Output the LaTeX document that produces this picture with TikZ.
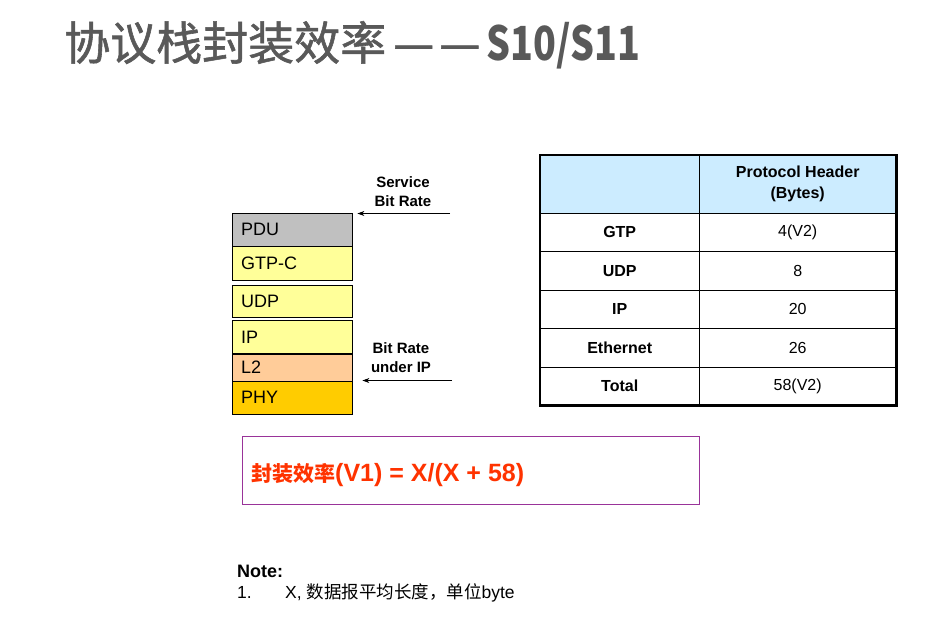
\documentclass[tikz,border=0pt]{standalone}
\usepackage{fontspec}
\setmainfont{Liberation Sans}
\newfontfamily\cjk{Noto Sans CJK SC}
\newfontfamily\cjktitle[FakeBold=1.2]{Noto Sans CJK SC}
\newfontfamily\cjknarrow[FakeStretch=0.8]{Noto Sans CJK SC}
\usetikzlibrary{positioning,arrows.meta}
\definecolor{titlegray}{HTML}{595959}
\definecolor{pdugray}{HTML}{C0C0C0}
\definecolor{lightyellow}{HTML}{FFFF99}
\definecolor{peach}{HTML}{FFCC99}
\definecolor{gold}{HTML}{FFCC00}
\definecolor{headblue}{HTML}{CCECFF}
\definecolor{formulared}{HTML}{FF3300}
\definecolor{boxpurple}{HTML}{993399}
\tikzset{
  layer/.style={draw, inner xsep=9pt, inner ysep=0pt, text width=102pt, align=left,
    font=\fontsize{18}{20}\selectfont},
  cell/.style={draw, anchor=north west, inner sep=0pt, align=center,
    font=\fontsize{16}{20}\selectfont},
  ratelabel/.style={align=center, font=\bfseries\fontsize{15}{19}\selectfont},
  >={Stealth[length=7pt,width=5pt]}
}

\begin{document}
\begin{tikzpicture}[x=1pt, y=-1pt]
    \fill[white] (0,0) rectangle (928,641);
    \useasboundingbox (0,0) rectangle (928,641);

    % title
    \node[anchor=base west, inner sep=0pt, text=titlegray,
          font=\cjktitle\fontsize{46}{50}\selectfont] (title) at (64,60)
          {协议栈封装效率\hspace{7pt}—\hspace{5pt}—\hspace{6pt}{\cjknarrow\bfseries\fontsize{47}{50}\selectfont S10/S11}};

    % protocol stack
    \node[layer, fill=pdugray, minimum height=33pt, anchor=north west] (PDU) at (232,213) {PDU};
    \node[layer, fill=lightyellow, minimum height=34pt] (GTPC) [below=0pt of PDU] {GTP-C};
    \node[layer, fill=lightyellow, minimum height=32pt] (UDP) [below=4pt of GTPC] {UDP};
    \node[layer, fill=lightyellow, minimum height=33pt] (IP) [below=3pt of UDP] {IP};
    \node[layer, fill=peach, minimum height=27pt] (L2) [below=0pt of IP] {L2};
    \node[layer, fill=gold, minimum height=33pt] (PHY) [below=0pt of L2] {PHY};

    \node[ratelabel] (svclabel) at (403,192) {Service\\Bit Rate};
    \node[ratelabel] (iplabel) at (401,358) {Bit Rate\\under IP};
    \coordinate (svcstart) at (450,213.5);
    \coordinate (ipstart) at (452,380.5);
    \draw[->, line width=0.8pt] (svcstart) -- ([xshift=5pt]svcstart -| PDU.east);
    \draw[->, line width=0.8pt] (ipstart) -- ([xshift=10pt]ipstart -| PHY.east);

    % header table
    \node[cell, fill=headblue, minimum width=159pt, minimum height=58pt] (head1) at (540,155) {};
    \node[cell, fill=headblue, minimum width=197pt, minimum height=58pt,
          font=\bfseries\fontsize{16}{21}\selectfont] (head2) at (699,155) {Protocol Header\\(Bytes)};
    \foreach \name/\val [count=\i] in {GTP/4(V2), UDP/8, IP/20, Ethernet/26, Total/58(V2)} {
      \node[cell, minimum width=159pt, minimum height=38.4pt, font=\bfseries\fontsize{16}{20}\selectfont]
            (name\i) at (540,{213+(\i-1)*38.4}) {\name};
      \node[cell, minimum width=197pt, minimum height=38.4pt] (val\i) at (699,{213+(\i-1)*38.4}) {\val};
    }
    \draw[line width=2.5pt] (head1.north west) rectangle (val5.south east);

    % efficiency formula
    \node[draw=boxpurple, anchor=north west, minimum width=457pt, minimum height=68pt] (effbox) at (242,436) {};
    \node[anchor=west, inner sep=0pt, text=formulared, font=\bfseries\fontsize{25}{28}\selectfont]
          (efftext) at ([xshift=9pt, yshift=-5pt]effbox.west)
          {{\cjk\bfseries\fontsize{21}{26}\selectfont 封装效率}(V1) = X/(X + 58)};

    % note
    \node[anchor=base west, inner sep=0pt, font=\bfseries\fontsize{18}{20}\selectfont] (notehead) at (237,577) {Note:};
    \node[anchor=base west, inner sep=0pt, font=\fontsize{17.5}{20}\selectfont] (notenum) at (237,598) {1.};
    \node[anchor=base west, inner sep=0pt, font=\fontsize{17.5}{20}\selectfont] (notetext) at (285,598)
          {X, {\cjk 数据报平均长度，单位}byte};
\end{tikzpicture}
\end{document}
